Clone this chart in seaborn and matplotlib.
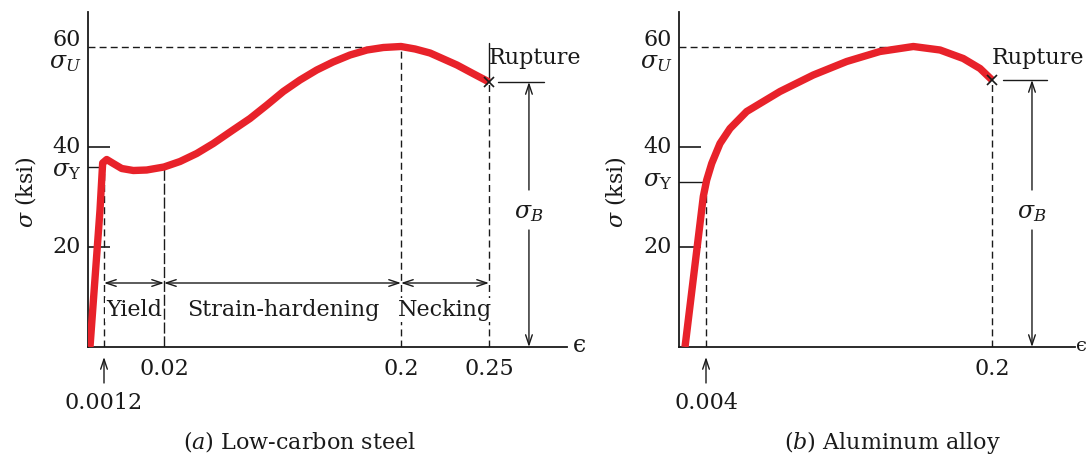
import numpy as np
import pandas as pd
import matplotlib
matplotlib.use("Agg")
import matplotlib.pyplot as plt
import seaborn as sns

sns.set_theme(style="white")
plt.rcParams['font.family'] = ['DejaVu Serif', 'DejaVu Sans']
plt.rcParams['mathtext.fontset'] = 'dejavuserif'

# ---------------- data ----------------
# (a) low-carbon steel: strain, stress (ksi)
steel_strain = [0.00015, 0.0009, 0.0011, 0.00205, 0.00411, 0.00675, 0.0104, 0.01458, 0.02,
                0.03215, 0.04484, 0.05744, 0.0724, 0.08532, 0.0982, 0.1106, 0.1233, 0.136,
                0.1484, 0.1613, 0.1742, 0.1866, 0.2, 0.208, 0.2165, 0.2318, 0.2403, 0.25]
steel_stress = [0.0, 27.4, 36.8, 37.5, 36.7, 35.7, 35.3, 35.4, 36.0,
                37.1, 38.7, 40.7, 43.4, 45.7, 48.4, 51.1, 53.4, 55.4,
                57.0, 58.4, 59.4, 59.9, 60.1, 59.6, 58.8, 56.4, 54.8, 53.0]
steel_yield, steel_ult, steel_rupt = 36.0, 60.0, 53.0
steel_ticks = [0.02, 0.2, 0.25]
steel_tick_labels = ["0.02", "0.2", "0.25"]
steel_prop = 0.0012
steel_regions = [("Yield", 0.0012, 0.02), ("Strain-hardening", 0.02, 0.2), ("Necking", 0.2, 0.25)]

# (b) aluminum alloy
alu_strain = [0.00089, 0.0036, 0.00448, 0.00791, 0.01359, 0.02045, 0.03189, 0.05471,
              0.07753, 0.1004, 0.1232, 0.1461, 0.1644, 0.1803, 0.1918, 0.2]
alu_stress = [0.0, 30.1, 33.4, 36.7, 40.7, 43.7, 47.1, 51.1,
              54.4, 57.1, 59.1, 60.1, 59.4, 57.7, 55.7, 53.4]
alu_yield, alu_ult, alu_rupt = 33.0, 60.0, 53.4
alu_ult_strain = 0.146
alu_ticks = [0.2]
alu_tick_labels = ["0.2"]
alu_prop = 0.004

stress_ticks = [20, 40]

RED = "#E8222A"
INK = "#1a1a1a"
FS = 16

# schematic (not-to-scale) strain axes, piecewise linear
steel_knots_s = [-0.001, 0.0, 0.0012, 0.02, 0.2, 0.25, 0.4]
steel_knots_p = [-13.33, 0.0, 16.0, 76.0, 313.0, 401.0, 665.0]
alu_knots_s = [-0.001, 0.0, 0.004, 0.2, 0.4]
alu_knots_p = [-6.75, 0.0, 27.0, 313.0, 604.8]


def make_scale(ks, kp):
    ks = np.asarray(ks); kp = np.asarray(kp)
    fwd = lambda x: np.interp(np.asarray(x, float), ks, kp)
    inv = lambda p: np.interp(np.asarray(p, float), kp, ks)
    return fwd, inv


fig = plt.figure(figsize=(10.86, 4.62), dpi=100)
axA = fig.add_axes([88/1086, 115/462, 479/1086, 335/462])
axB = fig.add_axes([679/1086, 115/462, 396/1086, 335/462])

dash = (0, (5, 3))


def setup(ax, knots_s, knots_p, xmax, eps_gap, eps_size):
    ax.set_xscale('function', functions=make_scale(knots_s, knots_p))
    ax.set_xlim(0, xmax)
    ax.set_ylim(0, 67)
    for s in ['top', 'right']:
        ax.spines[s].set_visible(False)
    for s in ['left', 'bottom']:
        ax.spines[s].set_color(INK)
        ax.spines[s].set_linewidth(1.3)
    ax.set_yticks(stress_ticks)
    ax.set_yticklabels([])
    ax.tick_params(axis='y', left=True, direction='in', length=16, width=1.2, color=INK)
    ax.set_xlabel(""); ax.set_ylabel("")
    ax.annotate("\u03f5", xy=(1.0, 0), xycoords='axes fraction', xytext=(eps_gap, 1),
                textcoords='offset points', ha='left', va='center',
                fontsize=eps_size, color=INK, annotation_clip=False)


def ylab(ax, txt, val, dy=0, size=FS):
    ax.annotate(txt, xy=(0, val), xycoords=ax.get_yaxis_transform(),
                xytext=(-5, dy), textcoords='offset points', ha='right', va='center',
                fontsize=size, color=INK, annotation_clip=False)


def harrow(ax, x0, x1, y):
    ax.annotate('', xy=(x1, y), xytext=(x0, y), annotation_clip=False,
                arrowprops=dict(arrowstyle='<->,head_length=0.6,head_width=0.2',
                                lw=1.0, color=INK, shrinkA=0, shrinkB=0))


def varrow(ax, x, y_from, y_to):
    ax.annotate('', xy=(x, y_to), xytext=(x, y_from), annotation_clip=False,
                arrowprops=dict(arrowstyle='->,head_length=0.6,head_width=0.2',
                                lw=1.0, color=INK, shrinkA=0, shrinkB=0))


def rupture(ax, xr, yr, x_line0, x_line1, x_arrow):
    ax.plot([xr], [yr], marker='x', ms=7, mew=1.2, color=INK, zorder=5)
    ax.text(xr, 57.8, "Rupture", ha='left', va='center', fontsize=FS, color=INK)
    ax.plot([x_line0, x_line1], [yr, yr], color=INK, lw=1.0)
    varrow(ax, x_arrow, 31.4, yr)
    varrow(ax, x_arrow, 23.4, 0)
    ax.text(x_arrow, 26.8, r"$\sigma_B$", ha='center', va='center', fontsize=FS + 1, color=INK)


def curve(ax, strain, stress):
    df = pd.DataFrame({"strain": strain, "stress": stress})
    sns.lineplot(data=df, x="strain", y="stress", ax=ax, color=RED, lw=5.3,
                 sort=False, estimator=None, zorder=4,
                 solid_capstyle='butt', solid_joinstyle='round')


# ---------------- (a) steel ----------------
curve(axA, steel_strain, steel_stress)
setup(axA, steel_knots_s, steel_knots_p, 0.25 + 78/1760, 4, FS + 1)
axA.plot([0, 0.2], [steel_ult, steel_ult], color=INK, lw=1.0, ls=dash)
axA.plot([0, steel_prop], [steel_yield, steel_yield], color=INK, lw=1.0)
axA.plot([steel_prop, steel_prop], [0, steel_yield], color=INK, lw=1.0, ls=dash)
axA.plot([0.02, 0.02], [0, steel_yield], color=INK, lw=1.0, ls=(0, (8, 2)))
axA.plot([0.2, 0.2], [0, steel_ult], color=INK, lw=1.0, ls=dash)
axA.plot([0.25, 0.25], [0, steel_rupt], color=INK, lw=1.0, ls=dash)
axA.plot([0.25, 0.25], [steel_rupt, 60.8], color=INK, lw=1.0)
rupture(axA, 0.25, steel_rupt, 0.2551, 0.2812, 0.2727)
for name, a, b in steel_regions:
    harrow(axA, a, b, 12.8)
label_x = {"Yield": 0.0106, "Strain-hardening": 0.1104, "Necking": 0.225}
for name, a, b in steel_regions:
    axA.text(label_x[name], 7.4, name, ha='center', va='center', fontsize=FS, color=INK,
             bbox=dict(facecolor='white', edgecolor='none', pad=0.5), zorder=6)
axA.set_xticks(steel_ticks)
axA.set_xticklabels(steel_tick_labels, fontsize=FS, color=INK)
axA.tick_params(axis='x', length=0, pad=8)
varrow(axA, steel_prop, -7.2, -2.0)
axA.text(steel_prop, -11.2, "0.0012", ha='center', va='center', fontsize=FS, color=INK)
ylab(axA, "60", 61.4); ylab(axA, r"$\sigma_U$", 57.0, size=FS + 1)
ylab(axA, "40", 40.0); ylab(axA, r"$\sigma_\mathrm{Y}$", 35.4, size=FS + 1)
ylab(axA, "20", 20.0)

# ---------------- (b) aluminum ----------------
curve(axB, alu_strain, alu_stress)
setup(axB, alu_knots_s, alu_knots_p, 0.2 + 83/1459.2, 0.5, FS - 2)
axB.plot([0, alu_ult_strain], [alu_ult, alu_ult], color=INK, lw=1.0, ls=dash)
axB.plot([0, alu_prop], [alu_yield, alu_yield], color=INK, lw=1.0)
axB.plot([alu_prop, alu_prop], [0, alu_yield], color=INK, lw=1.0, ls=dash)
axB.plot([0.2, 0.2], [0, alu_rupt], color=INK, lw=1.0, ls=dash)
rupture(axB, 0.2, alu_rupt, 0.2075, 0.2377, 0.2274)
axB.set_xticks(alu_ticks)
axB.set_xticklabels(alu_tick_labels, fontsize=FS, color=INK)
axB.tick_params(axis='x', length=0, pad=8)
varrow(axB, alu_prop, -7.2, -2.0)
axB.text(alu_prop, -11.2, "0.004", ha='center', va='center', fontsize=FS, color=INK)
ylab(axB, "60", 61.4); ylab(axB, r"$\sigma_U$", 57.0, size=FS + 1)
ylab(axB, "40", 40.0); ylab(axB, r"$\sigma_\mathrm{Y}$", 33.4, size=FS + 1)
ylab(axB, "20", 20.0)

# axis titles & captions
fig.text(25/1086, 1 - 192/462, r"$\sigma$ (ksi)", rotation=90, ha='center', va='center',
         fontsize=FS, color=INK)
fig.text(615/1086, 1 - 192/462, r"$\sigma$ (ksi)", rotation=90, ha='center', va='center',
         fontsize=FS, color=INK)
fig.text(300/1086, 1 - 442/462, r"$(a)$ Low-carbon steel", ha='center', va='center',
         fontsize=FS, color=INK)
fig.text(892/1086, 1 - 442/462, r"$(b)$ Aluminum alloy", ha='center', va='center',
         fontsize=FS, color=INK)

fig.savefig("out.png", dpi=100, facecolor='white')
